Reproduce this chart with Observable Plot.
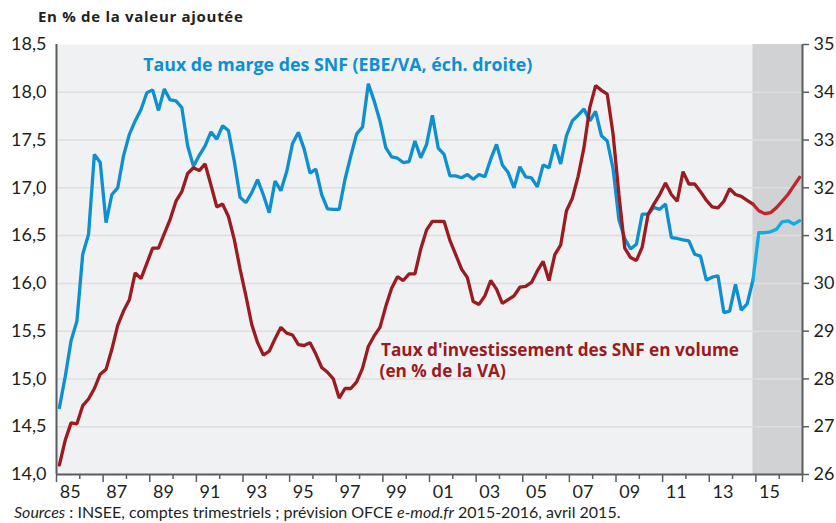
<!DOCTYPE html>
<html>
<head>
<meta charset="utf-8">
<script src="https://cdn.jsdelivr.net/npm/d3@7"></script>
<script src="https://cdn.jsdelivr.net/npm/@observablehq/plot@0.6"></script>
<style>
  body { margin: 0; background: #fff; font-family: Lato, "Open Sans", sans-serif; color: #231f20; }
  #wrap { position: relative; width: 836px; height: 523px; overflow: hidden; }
  #title { position: absolute; left: 38px; top: 6px; font-family: "Open Sans", sans-serif; font-weight: bold; font-size: 15px; letter-spacing: 0.7px; }
  #caption { position: absolute; left: 14px; top: 502px; font-size: 16px; white-space: nowrap; }
</style>
</head>
<body>
<div id="wrap">
  <div id="chart"></div>
  <div id="title">En % de la valeur ajoutée</div>
  <div id="caption"><i>Sources</i> : INSEE, comptes trimestriels ; prévision OFCE <i>e-mod.fr</i> 2015-2016, avril 2015.</div>
</div>
<script>
// Quarterly data, 1985T1 – 2016T4
const firstYear = 1985;
const lastYear = 2017;          // end of 2016
const forecastStart = 119;      // index of 2014T4, start of the OFCE forecast (shaded)

// Taux de marge des SNF (EBE/VA), right scale
const margeSNF = [
  27.40, 28.05, 28.80, 29.21, 30.61, 31.03, 32.70, 32.53,
  31.27, 31.86, 32.00, 32.67, 33.12, 33.40, 33.64, 33.99,
  34.05, 33.62, 34.07, 33.84, 33.82, 33.68, 32.88, 32.45,
  32.68, 32.88, 33.17, 33.02, 33.30, 33.20, 32.56, 31.80,
  31.69, 31.90, 32.17, 31.85, 31.48, 32.14, 31.94, 32.34,
  32.93, 33.16, 32.81, 32.31, 32.39, 31.86, 31.56, 31.55,
  31.55, 32.18, 32.67, 33.13, 33.27, 34.18, 33.82, 33.40,
  32.84, 32.65, 32.62, 32.53, 32.55, 32.98, 32.63, 32.91,
  33.52, 32.83, 32.70, 32.25, 32.25, 32.21, 32.28, 32.18,
  32.28, 32.23, 32.60, 32.91, 32.48, 32.32, 32.00, 32.44,
  32.23, 32.21, 32.02, 32.48, 32.42, 32.91, 32.50, 33.09,
  33.40, 33.52, 33.65, 33.40, 33.60, 33.09, 32.98, 32.40,
  31.33, 30.94, 30.72, 30.82, 31.45, 31.45, 31.59, 31.55,
  31.66, 30.96, 30.94, 30.91, 30.89, 30.61, 30.57, 30.07,
  30.13, 30.16, 29.39, 29.42, 29.98, 29.44, 29.57, 30.07,
  31.06, 31.06, 31.08, 31.13, 31.29, 31.31, 31.24, 31.31
];

// Taux d'investissement des SNF en volume (en % de la VA), left scale
const investSNF = [
  14.10, 14.36, 14.54, 14.53, 14.72, 14.79, 14.90, 15.05,
  15.10, 15.31, 15.56, 15.71, 15.83, 16.11, 16.05, 16.21,
  16.37, 16.37, 16.52, 16.67, 16.86, 16.96, 17.15, 17.21,
  17.18, 17.25, 17.03, 16.80, 16.83, 16.70, 16.46, 16.15,
  15.87, 15.57, 15.38, 15.25, 15.29, 15.42, 15.54, 15.48,
  15.46, 15.36, 15.35, 15.38, 15.26, 15.12, 15.07, 15.00,
  14.80, 14.90, 14.90, 14.97, 15.11, 15.34, 15.45, 15.54,
  15.76, 15.95, 16.07, 16.03, 16.10, 16.10, 16.36, 16.56,
  16.65, 16.65, 16.65, 16.45, 16.30, 16.15, 16.06, 15.81,
  15.78, 15.87, 16.03, 15.94, 15.79, 15.83, 15.87, 15.96,
  15.97, 16.01, 16.13, 16.23, 16.03, 16.30, 16.40, 16.76,
  16.89, 17.12, 17.42, 17.84, 18.07, 18.02, 17.98, 17.56,
  16.93, 16.37, 16.27, 16.24, 16.38, 16.72, 16.83, 16.93,
  17.05, 16.93, 16.86, 17.17, 17.04, 17.04, 16.96, 16.87,
  16.80, 16.79, 16.86, 16.99, 16.93, 16.91, 16.87, 16.83,
  16.76, 16.73, 16.74, 16.79, 16.86, 16.93, 17.02, 17.11
];

const leftTicks = [14.0, 14.5, 15.0, 15.5, 16.0, 16.5, 17.0, 17.5, 18.0, 18.5];
const rightTicks = [26, 27, 28, 29, 30, 31, 32, 33, 34, 35];
const yearLabels = ["85", "87", "89", "91", "93", "95", "97", "99", "01", "03", "05", "07", "09", "11", "13", "15"];

const blueLabel = {t: 1988.72, v: 18.285, text: "Taux de marge des SNF (EBE/VA, éch. droite)"};
const redLabel1 = {t: 1998.92, v: 15.30, text: "Taux d'investissement des SNF en volume"};
const redLabel2 = {t: 1998.86, v: 15.08, text: "(en % de la VA)"};

// ---- build ----
const toLeft = r => (r + 2) / 2;   // right scale (26–35) onto left scale (14–18.5)
const rows = investSNF.map((v, i) => ({t: firstYear + (i + 0.5) / 4, invest: v, marge: margeSNF[i], i}));
const obs = rows.filter(d => d.i <= forecastStart);
const fc = rows.filter(d => d.i >= forecastStart);
const labelPos = yearLabels.map(s => (+s >= 50 ? 1900 : 2000) + +s + 0.5);
const yearStarts = d3.range(firstYear, lastYear + 1);
const axisColor = "#5b5c5e";
const blue = "#0d8fd0", blueF = "#13abe6";
const red = "#9b1b20", redF = "#be262c";

const chart = Plot.plot({
  width: 836,
  height: 523,
  marginTop: 44,
  marginBottom: 49,
  marginLeft: 56,
  marginRight: 34,
  style: {fontFamily: "Lato, 'Open Sans', sans-serif", color: "#231f20", background: "transparent", overflow: "visible"},
  x: {domain: [firstYear, lastYear], axis: null, label: null},
  y: {domain: [14, 18.5], axis: null, label: null},
  marks: [
    Plot.frame({fill: "#f0f1f3", stroke: "none"}),
    Plot.rect([{x1: rows[forecastStart].t, x2: lastYear}], {x1: "x1", x2: "x2", fill: "#d1d2d4"}),
    Plot.ruleY(leftTicks.slice(1, -1), {stroke: "#dddee0", strokeWidth: 1.5}),
    Plot.line(obs, {x: "t", y: d => toLeft(d.marge), stroke: blue, strokeWidth: 3.3, strokeLinejoin: "miter"}),
    Plot.line(fc, {x: "t", y: d => toLeft(d.marge), stroke: blueF, strokeWidth: 3.3}),
    Plot.line(obs, {x: "t", y: "invest", stroke: red, strokeWidth: 3.3, strokeLinejoin: "miter"}),
    Plot.line(fc, {x: "t", y: "invest", stroke: redF, strokeWidth: 3.3}),
    Plot.ruleX([firstYear, lastYear], {stroke: axisColor, strokeWidth: 2}),
    Plot.ruleY([14], {stroke: axisColor, strokeWidth: 2}),
    Plot.axisY(leftTicks, {anchor: "left", tickSize: 0, tickPadding: 10, fontSize: 18,
      tickFormat: d => d.toFixed(1).replace(".", ",")}),
    Plot.axisY(rightTicks.map(toLeft), {anchor: "right", tickSize: 6, tickPadding: 5, fontSize: 18,
      stroke: axisColor, strokeWidth: 1.5, tickFormat: d => String(Math.round(2 * d - 2))}),
    Plot.axisX(yearStarts.filter(y => y % 2 === 1), {anchor: "bottom", tickSize: 8, stroke: axisColor, strokeWidth: 1.5, tickFormat: () => ""}),
    Plot.axisX(yearStarts.filter(y => y % 2 === 0), {anchor: "bottom", tickSize: 5, stroke: axisColor, strokeWidth: 1.5, tickFormat: () => ""}),
    Plot.axisX(labelPos, {anchor: "bottom", tickSize: 0, tickPadding: 11, fontSize: 18, dx: 2,
      tickFormat: (d, i) => yearLabels[i]}),
    Plot.text([blueLabel], {x: "t", y: "v", text: "text", textAnchor: "start", fill: blue, fontWeight: "bold", fontSize: 17.8, fontFamily: "'Open Sans', sans-serif"}),
    Plot.text([redLabel1, redLabel2], {x: "t", y: "v", text: "text", textAnchor: "start", fill: red, fontWeight: "bold", fontSize: 17.2, fontFamily: "'Open Sans', sans-serif"})
  ]
});
document.getElementById("chart").appendChild(chart);
</script>
</body>
</html>
